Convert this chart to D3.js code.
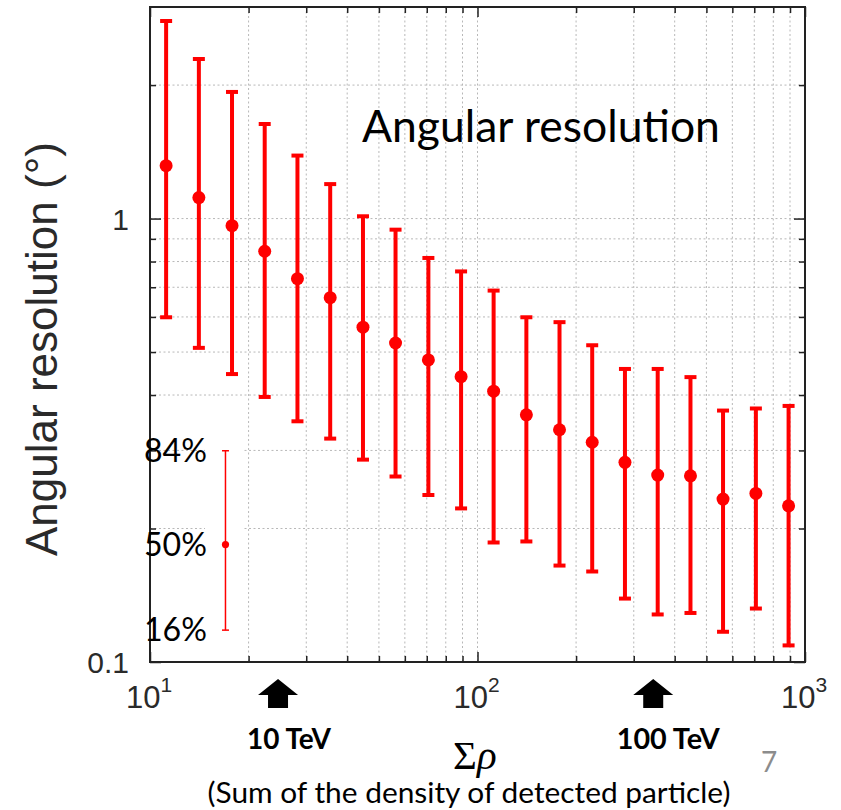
<!DOCTYPE html>
<html>
<head>
<meta charset="utf-8">
<script src="https://cdn.jsdelivr.net/npm/d3@7"></script>
<style>
  html, body { margin: 0; padding: 0; background: #fff; }
  svg { display: block; }
</style>
</head>
<body>
<svg id="chart" width="841" height="810"></svg>
<script>
// ---- data ----
const sumRho = [11.2, 14.1, 17.8, 22.4, 28.2, 35.5, 44.7, 56.2, 70.8, 89.1,
                112, 141, 178, 224, 282, 355, 447, 562, 708, 891];
const median = [1.316, 1.115, 0.964, 0.844, 0.732, 0.663, 0.569, 0.524, 0.480, 0.440,
                0.408, 0.361, 0.334, 0.313, 0.282, 0.264, 0.263, 0.233, 0.240, 0.225];
const upper84 = [2.79, 2.29, 1.93, 1.634, 1.387, 1.196, 1.012, 0.944, 0.815, 0.760,
                 0.688, 0.599, 0.584, 0.518, 0.458, 0.458, 0.439, 0.369, 0.373, 0.378];
const lower16 = [0.599, 0.511, 0.446, 0.396, 0.349, 0.319, 0.286, 0.262, 0.238, 0.222,
                 0.186, 0.187, 0.165, 0.160, 0.139, 0.128, 0.129, 0.117, 0.132, 0.109];

const xMajor = [10, 100, 1000];
const xMajorExp = ["1", "2", "3"];
const xMinor = [20, 30, 40, 50, 60, 70, 80, 90, 200, 300, 400, 500, 600, 700, 800, 900];
const yMajor = [0.1, 1];
const yMajorLabels = ["0.1", "1"];
const yMinor = [0.2, 0.3, 0.4, 0.5, 0.6, 0.7, 0.8, 0.9, 2];

const legendX = 17.0;
const legendVals = [0.118, 0.184, 0.2995];
const legendLabels = ["16%", "50%", "84%"];

const energyX = [24.6, 344];
const energyLabels = ["10 TeV", "100 TeV"];

// ---- layout ----
const L = 150, R = 805, T = 7, B = 662;
const svg = d3.select("#chart");
const x = d3.scaleLog().domain([10, 1000]).range([L, R]);
const y = d3.scaleLog().domain([0.1, 3]).range([B, T]);

const red = "#ff0000";
const axisFont = "'Liberation Sans', Arial, Helvetica, sans-serif";
const slideFont = "Lato, 'Open Sans', sans-serif";

function fit(sel, target) {
  const fs = parseFloat(sel.attr("font-size"));
  const len = sel.node().getComputedTextLength();
  sel.attr("font-size", fs * target / len);
}

// ---- grid ----
const grid = svg.append("g").attr("stroke", "#b8b8b8").attr("stroke-width", 1)
  .attr("stroke-dasharray", "2,2.5");
grid.selectAll("line.vx").data(xMinor.concat([100])).enter().append("line")
  .attr("x1", d => x(d)).attr("x2", d => x(d)).attr("y1", T).attr("y2", B);
grid.selectAll("line.hy").data(yMinor.concat([1])).enter().append("line")
  .attr("y1", d => y(d)).attr("y2", d => y(d)).attr("x1", L).attr("x2", R);

// white patch behind the percentile legend
svg.append("rect").attr("x", 205).attr("y", 440).attr("width", 39).attr("height", 205)
  .attr("fill", "#fff");

// ---- axes (inward ticks on all sides) ----
function tickAxis(gen, scale, vals, size, transform) {
  const g = svg.append("g").attr("transform", transform)
    .call(gen(scale).tickValues(vals).tickSize(size).tickFormat(""));
  g.select(".domain").remove();
  g.selectAll("line").attr("stroke", "#222").attr("stroke-width", 1.5);
}
tickAxis(d3.axisBottom, x, xMajor, -10, `translate(0,${B})`);
tickAxis(d3.axisBottom, x, xMinor, -6, `translate(0,${B})`);
tickAxis(d3.axisTop, x, xMajor, -10, `translate(0,${T})`);
tickAxis(d3.axisTop, x, xMinor, -6, `translate(0,${T})`);
tickAxis(d3.axisLeft, y, yMajor, -11, `translate(${L},0)`);
tickAxis(d3.axisLeft, y, yMinor, -6, `translate(${L},0)`);
tickAxis(d3.axisRight, y, yMajor, -11, `translate(${R},0)`);
tickAxis(d3.axisRight, y, yMinor, -6, `translate(${R},0)`);

svg.append("rect").attr("x", L).attr("y", T).attr("width", R - L).attr("height", B - T)
  .attr("fill", "none").attr("stroke", "#222").attr("stroke-width", 2);

// tick labels
xMajor.forEach((v, i) => {
  const t = svg.append("text").attr("x", x(v) - 1).attr("y", 708)
    .attr("text-anchor", "middle").attr("font-family", axisFont)
    .attr("font-size", 31).attr("fill", "#2a2a2a");
  t.append("tspan").text("10");
  t.append("tspan").attr("dy", -16).attr("font-size", 21).text(xMajorExp[i]);
});
yMajor.forEach((v, i) => {
  svg.append("text").attr("x", 129).attr("y", y(v) + 11)
    .attr("text-anchor", "end").attr("font-family", axisFont)
    .attr("font-size", 30).attr("fill", "#2a2a2a").text(yMajorLabels[i]);
});

// y axis title
svg.append("text")
  .attr("transform", "translate(57,556) rotate(-90)")
  .attr("text-anchor", "start").attr("font-family", axisFont)
  .attr("font-size", 42).attr("fill", "#2a2a2a")
  .text("Angular resolution (°)")
  .call(s => fit(s, 414));

// ---- error bars ----
const bars = svg.append("g");
sumRho.forEach((xv, i) => {
  const cx = x(xv);
  bars.append("line").attr("x1", cx).attr("x2", cx)
    .attr("y1", y(upper84[i])).attr("y2", y(lower16[i]))
    .attr("stroke", red).attr("stroke-width", 4);
  [upper84[i], lower16[i]].forEach(v => {
    bars.append("line").attr("x1", cx - 6).attr("x2", cx + 6)
      .attr("y1", y(v)).attr("y2", y(v))
      .attr("stroke", red).attr("stroke-width", 4);
  });
  bars.append("circle").attr("cx", cx).attr("cy", y(median[i])).attr("r", 6.5)
    .attr("fill", red);
});

// ---- percentile legend ----
const lx = x(legendX);
svg.append("line").attr("x1", lx).attr("x2", lx)
  .attr("y1", y(legendVals[2])).attr("y2", y(legendVals[0]))
  .attr("stroke", red).attr("stroke-width", 1.5);
[legendVals[0], legendVals[2]].forEach(v => {
  svg.append("line").attr("x1", lx - 3.5).attr("x2", lx + 3.5)
    .attr("y1", y(v)).attr("y2", y(v)).attr("stroke", red).attr("stroke-width", 1.5);
});
svg.append("circle").attr("cx", lx).attr("cy", y(legendVals[1])).attr("r", 3.6).attr("fill", red);
legendVals.forEach((v, i) => {
  const t = svg.append("text").attr("x", 144).attr("y", y(v) + 11)
    .attr("font-family", slideFont).attr("font-size", 30).attr("fill", "#000")
    .text(legendLabels[i]);
  fit(t, 63);
});

// ---- title inside plot ----
const title = svg.append("text").attr("x", 362).attr("y", 142)
  .attr("font-family", slideFont).attr("font-size", 40).attr("fill", "#000")
  .text("Angular resolution");
fit(title, 358);

// ---- energy arrows ----
energyX.forEach((v, i) => {
  const cx = x(v);
  svg.append("path")
    .attr("d", `M${cx},679 L${cx + 20},695 L${cx + 10},695 L${cx + 10},708 L${cx - 10},708 L${cx - 10},695 L${cx - 20},695 Z`)
    .attr("fill", "#000");
  const t = svg.append("text").attr("x", cx + (i === 0 ? 11 : 15)).attr("y", 749)
    .attr("text-anchor", "middle").attr("font-family", slideFont)
    .attr("font-weight", "bold").attr("font-size", 22).attr("fill", "#000")
    .text(energyLabels[i]);
  fit(t, i === 0 ? 84 : 103);
});

// ---- x axis title ----
const xt = svg.append("text").attr("x", 453).attr("y", 769)
  .attr("font-family", "'Liberation Serif', 'DejaVu Serif', serif")
  .attr("font-size", 41).attr("fill", "#000");
xt.append("tspan").text("Σ");
xt.append("tspan").attr("font-style", "italic").text("ρ");

svg.append("text").attr("x", 469).attr("y", 803).attr("text-anchor", "middle")
  .attr("font-family", slideFont).attr("font-size", 26).attr("fill", "#000")
  .text("(Sum of the density of detected particle)")
  .call(s => fit(s, 523));

// slide number
svg.append("text").attr("x", 761).attr("y", 772)
  .attr("font-family", slideFont).attr("font-size", 28).attr("fill", "#8c8c8c")
  .text("7");
</script>
</body>
</html>
